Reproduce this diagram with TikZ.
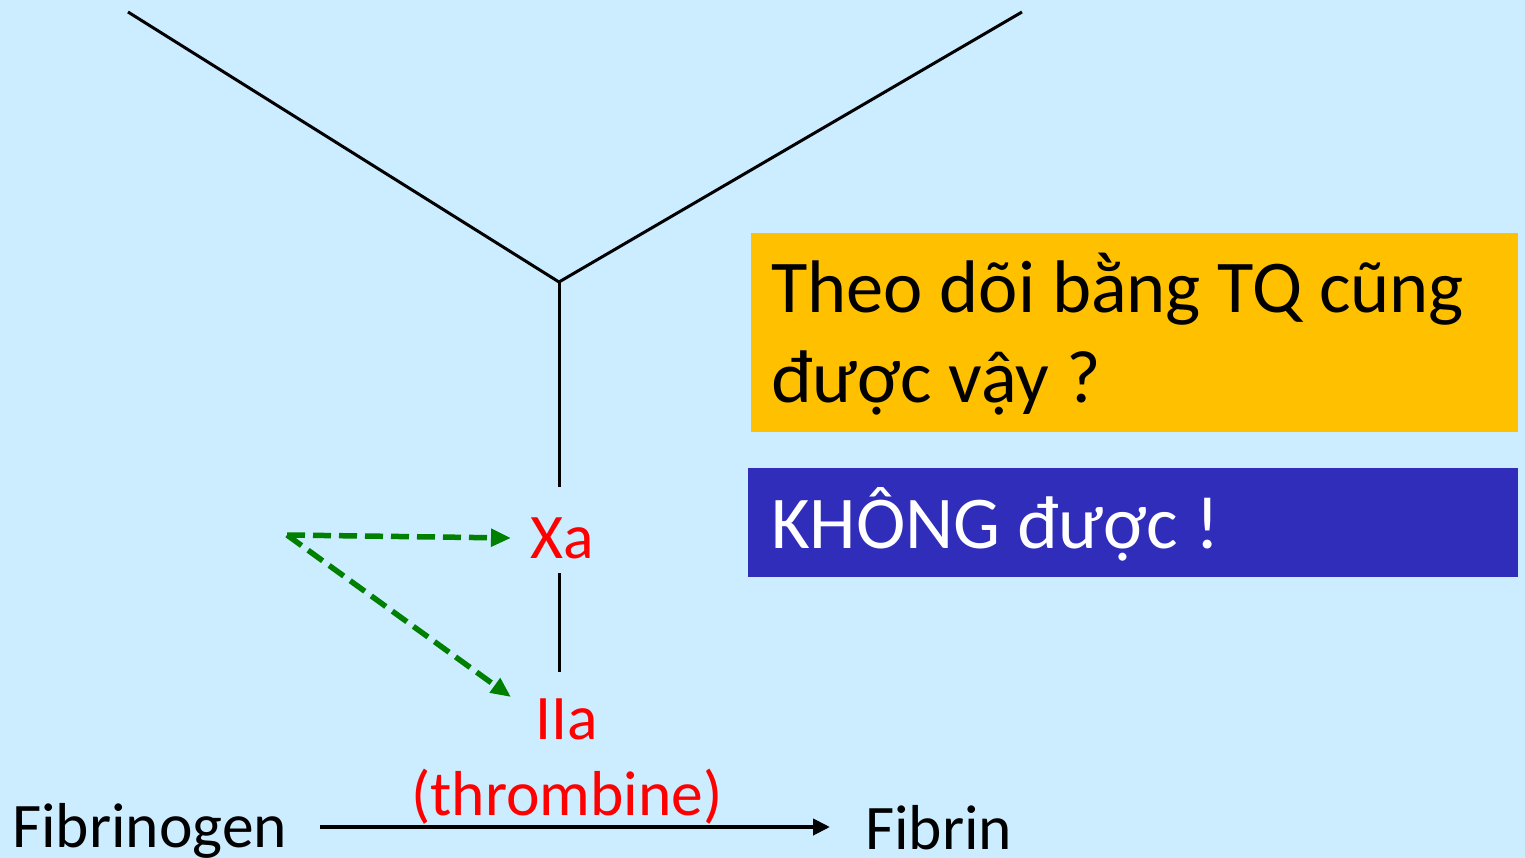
\documentclass[tikz,border=0pt]{standalone}
\usepackage{fontspec}
\setmainfont{Carlito}
\usetikzlibrary{arrows.meta}
\definecolor{bg}{RGB}{204,236,255}
\definecolor{boxorange}{RGB}{255,192,0}
\definecolor{boxblue}{RGB}{47,45,186}
\definecolor{darkgreen}{RGB}{0,128,0}
\definecolor{labred}{RGB}{255,0,0}
\tikzset{
  pathway/.style={line width=3pt, black},
  factor/.style={text=labred, font=\fontsize{63.5}{70}\selectfont, inner sep=0pt},
  plain/.style={text=black, font=\fontsize{63.5}{70}\selectfont, inner sep=0pt},
  inhibit/.style={line width=5.5pt, darkgreen, dash pattern=on 18pt off 8pt,
    -{Triangle[length=20pt,width=17pt]}},
  convert/.style={line width=4pt, black, -{Triangle[length=17pt,width=16pt]}},
  note/.style={font=\fontsize{74.5}{90}\selectfont, inner sep=0pt, anchor=base west, align=left}
}
\begin{document}
\begin{tikzpicture}[x=1pt, y=-1pt]
  \fill[bg] (0,0) rectangle (1525,858);
  \useasboundingbox (0,0) rectangle (1525,858);

  % Y-shaped cascade converging on factor X
  \coordinate (intr) at (128,12);
  \coordinate (extr) at (1022,12);
  \coordinate (junc) at (559,282);
  \coordinate (xtop) at (559,487);
  \draw[pathway] (intr) -- (junc) -- (extr);
  \draw[pathway] (junc) -- (xtop);

  % activated factors
  \node[factor, anchor=base] (Xa) at (562,558) {Xa};
  \node[factor, anchor=base] (IIa) at (567,739) {IIa};
  \node[factor, anchor=base] (thr) at (567,815) {(thrombine)};
  \coordinate (xbot) at (559,573);
  \coordinate (iitop) at (559,672);
  \draw[pathway] (xbot) -- (iitop);

  % anticoagulant acting on Xa and IIa
  \coordinate (drug) at (287,535);
  \coordinate (toXa) at (511,538);
  \coordinate (toIIa) at (511,697);
  \draw[inhibit] (drug) -- (toXa);
  \draw[inhibit] (drug) -- (toIIa);

  % fibrinogen to fibrin
  \node[plain, anchor=base west] (fbg) at (12,847) {Fibrinogen};
  \node[plain, anchor=base west] (fbn) at (865,849) {Fibrin};
  \coordinate (cstart) at (320,827);
  \coordinate (cend) at (830,827);
  \draw[convert] (cstart) -- (cend);

  % question and answer boxes
  \fill[boxorange] (751,233) rectangle (1518,432);
  \node[note, text=black] (q) at (771,402) {Theo dõi bằng TQ cũng\\được vậy ?};
  \fill[boxblue] (748,468) rectangle (1518,577);
  \node[note, text=white] (a) at (771,548) {KHÔNG được !};
\end{tikzpicture}
\end{document}
